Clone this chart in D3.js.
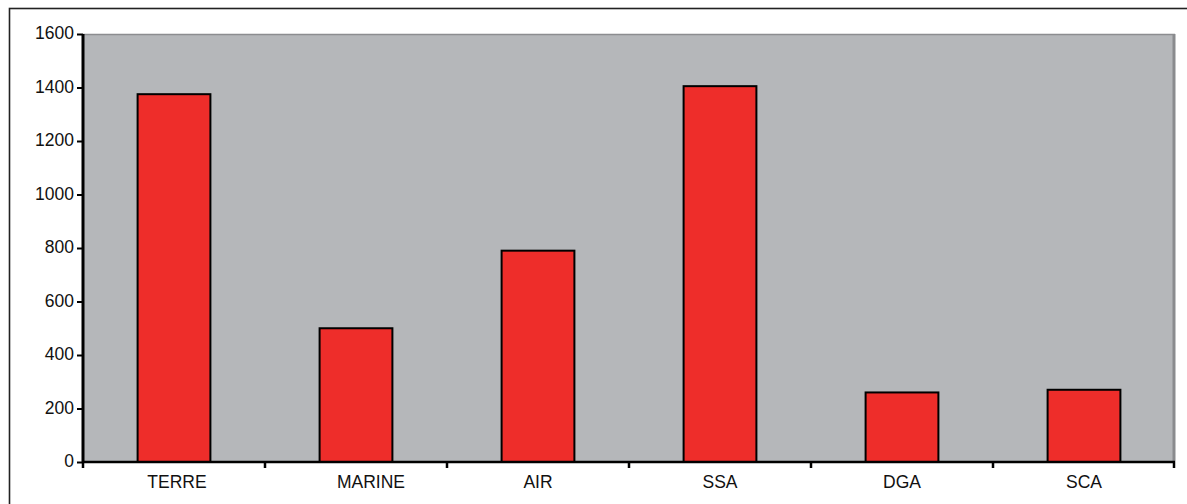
<!DOCTYPE html>
<html>
<head>
<meta charset="utf-8">
<script src="https://cdn.jsdelivr.net/npm/d3@7"></script>
<style>
html,body{margin:0;padding:0;background:#fff;}
svg{display:block;}
text{font-family:"Liberation Sans",Arial,sans-serif;fill:#111;}
</style>
</head>
<body>
<svg id="chart" width="1187" height="504"></svg>
<script>
const categories = ["TERRE", "MARINE", "AIR", "SSA", "DGA", "SCA"];
const values = [1375, 500, 790, 1405, 260, 270];
const yTicks = [0, 200, 400, 600, 800, 1000, 1200, 1400, 1600];

const svg = d3.select("#chart");
const W = 1187, H = 504;
const m = {left: 83, right: 12, top: 34, bottom: 42};
const x0 = m.left, x1 = W - m.right, y0 = H - m.bottom, y1 = m.top;

// outer frame
svg.append("rect").attr("x", 9.5).attr("y", 8.5).attr("width", W + 20).attr("height", H + 20)
  .attr("fill", "#fff").attr("stroke", "#222").attr("stroke-width", 1.6);

const x = d3.scaleBand().domain(categories).range([x0, x1]).padding(0);
const y = d3.scaleLinear().domain([0, 1600]).range([y0, y1]);

// plot background
svg.append("rect").attr("x", x0).attr("y", y1).attr("width", x1 - x0).attr("height", y0 - y1)
  .attr("fill", "#b5b7ba");
svg.append("line").attr("x1", x0).attr("x2", x1).attr("y1", y1 + 0.5).attr("y2", y1 + 0.5)
  .attr("stroke", "#8c8d90").attr("stroke-width", 1.5);
svg.append("line").attr("x1", x1 - 1).attr("x2", x1 - 1).attr("y1", y1).attr("y2", y0)
  .attr("stroke", "#8a8b8e").attr("stroke-width", 3);

// bars
const barFrac = 0.4;
svg.append("g").selectAll("rect").data(values).join("rect")
  .attr("x", (d, i) => x(categories[i]) + x.bandwidth() * (1 - barFrac) / 2)
  .attr("width", x.bandwidth() * barFrac)
  .attr("y", d => y(d))
  .attr("height", d => y(0) - y(d))
  .attr("fill", "#ee2d2a")
  .attr("stroke", "#000")
  .attr("stroke-width", 2);

// y axis
const yAxis = d3.axisLeft(y).tickValues(yTicks).tickSize(6).tickPadding(3).tickFormat(d3.format("d"));
const gy = svg.append("g").attr("transform", `translate(${x0},0)`).call(yAxis);
gy.select(".domain").attr("stroke", "#000").attr("stroke-width", 3)
  .attr("d", `M0,${y1}V${y0}`);
gy.selectAll(".tick line").attr("stroke", "#000").attr("stroke-width", 2);
gy.selectAll(".tick text").style("font-size", "17.5px").attr("dy", "0.28em")
  .style("font-family", "'Liberation Sans',Arial,sans-serif").attr("fill", "#111");

// x axis
const labelNudge = {TERRE: 3, MARINE: 15};
const xAxis = d3.axisBottom(x).tickSize(0).tickPadding(14);
const gx = svg.append("g").attr("transform", `translate(0,${y0})`).call(xAxis);
gx.select(".domain").attr("stroke", "#000").attr("stroke-width", 2.5)
  .attr("d", `M${x0},0H${x1}`);
gx.selectAll(".tick text").style("font-size", "17.5px")
  .style("font-family", "'Liberation Sans',Arial,sans-serif").attr("fill", "#111")
  .attr("x", d => labelNudge[d] || 0);
const bounds = categories.map(c => x(c)).concat([x1 - 1]);
svg.append("g").selectAll("line").data(bounds).join("line")
  .attr("x1", d => d).attr("x2", d => d)
  .attr("y1", y0).attr("y2", y0 + 6)
  .attr("stroke", "#000").attr("stroke-width", 2.5);
</script>
</body>
</html>
